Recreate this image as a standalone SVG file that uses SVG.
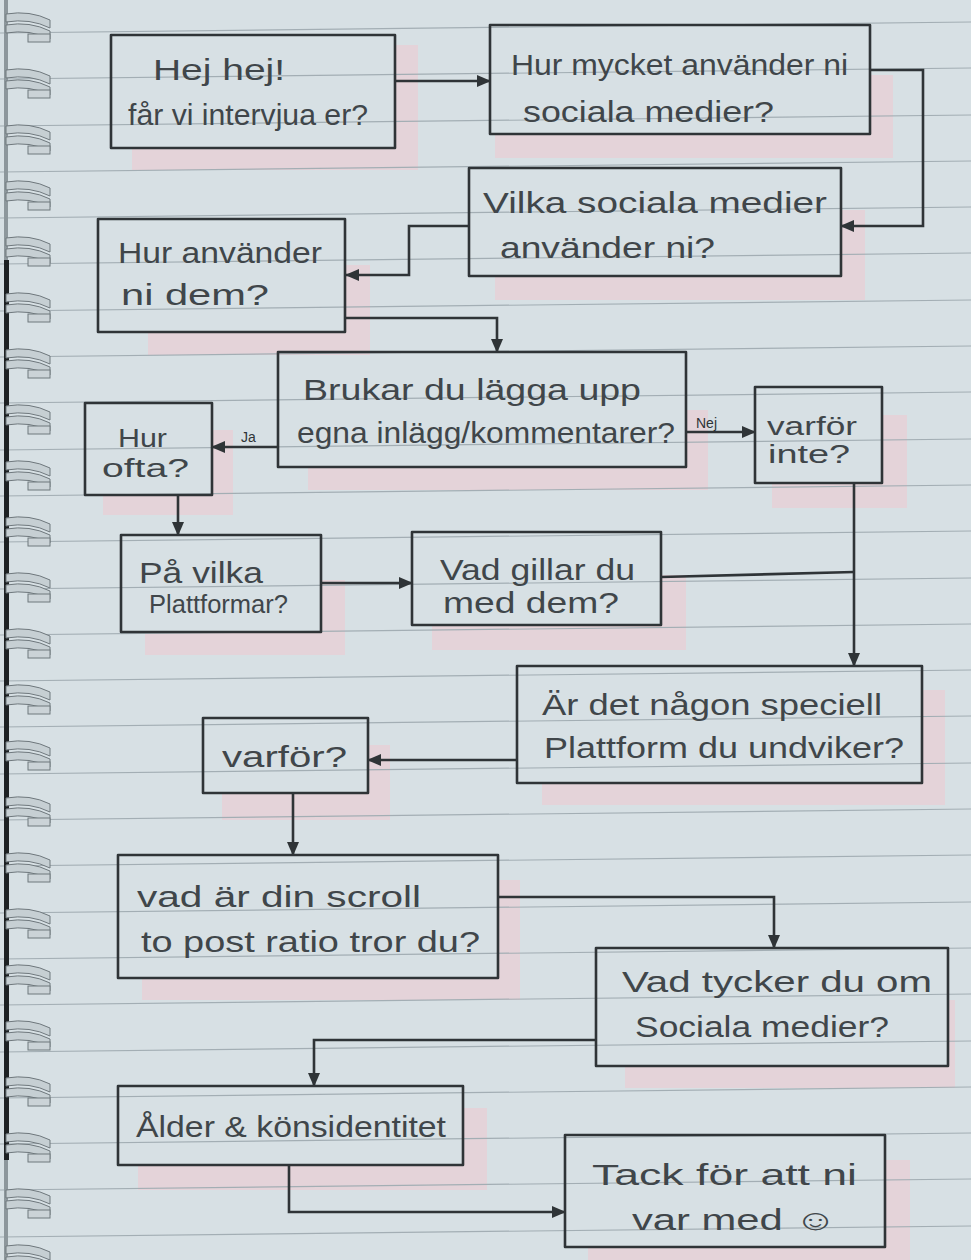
<svg xmlns="http://www.w3.org/2000/svg" xmlns:xlink="http://www.w3.org/1999/xlink" width="971" height="1260" viewBox="0 0 971 1260">
<style>
.box{fill:none;stroke:#2f3437;stroke-width:2.6;stroke-linejoin:round}
.sh{fill:#ecc9d2;opacity:0.6;fill-rule:evenodd}
.t{font-family:"Liberation Sans","DejaVu Sans",sans-serif;font-size:29px;fill:#40464a}
.s{font-size:25px}
.lbl{font-family:"Liberation Sans",sans-serif;font-size:14px;fill:#2f3437}
.c{fill:none;stroke:#2f3437;stroke-width:2.6}
.rule{stroke:#a3aeb4;stroke-width:1.2}
</style>
<defs>
<marker id="ah" markerWidth="14" markerHeight="12" refX="13" refY="6" orient="auto" markerUnits="userSpaceOnUse">
<path d="M0,0 L14,6 L0,12 z" fill="#2f3437"/>
</marker>
<g id="ring">
<path d="M6,0 Q30,-4 50,6 L50,14 Q30,4 6,8 z" fill="#c6cfd3" stroke="#6f787d" stroke-width="1"/>
<path d="M6,11 Q30,7 50,17 L50,25 Q30,15 6,19 z" fill="#c6cfd3" stroke="#6f787d" stroke-width="1"/>
<rect x="28" y="20" width="22" height="8" fill="#cbd3d7" stroke="#6f787d" stroke-width="1"/>
</g>
</defs>
<rect width="971" height="1260" fill="#d7e0e4"/>
<g id="shadows">
<path class="sh" d="M132,45h286v125h-286z M132,45H395V148H132z"/>
<path class="sh" d="M495,75h398v83h-398z M495,75H870V134H495z"/>
<path class="sh" d="M495,210h370v90h-370z M495,210H841V276H495z"/>
<path class="sh" d="M148,265h222v90h-222z M148,265H345V332H148z"/>
<path class="sh" d="M308,410h400v80h-400z M308,410H686V467H308z"/>
<path class="sh" d="M103,430h130v85h-130z M103,430H212V495H103z"/>
<path class="sh" d="M772,415h135v93h-135z M772,415H882V483H772z"/>
<path class="sh" d="M145,580h200v75h-200z M145,580H321V632H145z"/>
<path class="sh" d="M432,575h254v75h-254z M432,575H661V625H432z"/>
<path class="sh" d="M542,690h403v115h-403z M542,690H922V783H542z"/>
<path class="sh" d="M222,745h168v75h-168z M222,745H368V793H222z"/>
<path class="sh" d="M142,880h378v120h-378z M142,880H498V978H142z"/>
<path class="sh" d="M625,1000h330v88h-330z M625,1000H948V1066H625z"/>
<path class="sh" d="M138,1108h349v82h-349z M138,1108H463V1165H138z"/>
<path class="sh" d="M588,1160h322v100h-322z M588,1160H885V1247H588z"/>
</g>
<g id="paper-rules">
<line class="rule" x1="0" y1="33" x2="971" y2="22"/>
<line class="rule" x1="0" y1="79" x2="971" y2="68"/>
<line class="rule" x1="0" y1="126" x2="971" y2="115"/>
<line class="rule" x1="0" y1="172" x2="971" y2="161"/>
<line class="rule" x1="0" y1="218" x2="971" y2="207"/>
<line class="rule" x1="0" y1="264" x2="971" y2="253"/>
<line class="rule" x1="0" y1="311" x2="971" y2="300"/>
<line class="rule" x1="0" y1="357" x2="971" y2="346"/>
<line class="rule" x1="0" y1="403" x2="971" y2="392"/>
<line class="rule" x1="0" y1="450" x2="971" y2="439"/>
<line class="rule" x1="0" y1="496" x2="971" y2="485"/>
<line class="rule" x1="0" y1="542" x2="971" y2="531"/>
<line class="rule" x1="0" y1="589" x2="971" y2="578"/>
<line class="rule" x1="0" y1="635" x2="971" y2="624"/>
<line class="rule" x1="0" y1="681" x2="971" y2="670"/>
<line class="rule" x1="0" y1="727" x2="971" y2="716"/>
<line class="rule" x1="0" y1="774" x2="971" y2="763"/>
<line class="rule" x1="0" y1="820" x2="971" y2="809"/>
<line class="rule" x1="0" y1="866" x2="971" y2="855"/>
<line class="rule" x1="0" y1="913" x2="971" y2="902"/>
<line class="rule" x1="0" y1="959" x2="971" y2="948"/>
<line class="rule" x1="0" y1="1005" x2="971" y2="994"/>
<line class="rule" x1="0" y1="1052" x2="971" y2="1041"/>
<line class="rule" x1="0" y1="1098" x2="971" y2="1087"/>
<line class="rule" x1="0" y1="1144" x2="971" y2="1133"/>
<line class="rule" x1="0" y1="1190" x2="971" y2="1179"/>
<line class="rule" x1="0" y1="1237" x2="971" y2="1226"/>
</g>
<g id="binding">
<rect x="4" y="0" width="4" height="1260" fill="#8d979c"/>
<rect x="4" y="260" width="5" height="900" fill="#1e2224"/>
<use xlink:href="#ring" y="14"/><use xlink:href="#ring" y="70"/><use xlink:href="#ring" y="126"/><use xlink:href="#ring" y="182"/>
<use xlink:href="#ring" y="238"/><use xlink:href="#ring" y="294"/><use xlink:href="#ring" y="350"/><use xlink:href="#ring" y="406"/>
<use xlink:href="#ring" y="462"/><use xlink:href="#ring" y="518"/><use xlink:href="#ring" y="574"/><use xlink:href="#ring" y="630"/>
<use xlink:href="#ring" y="686"/><use xlink:href="#ring" y="742"/><use xlink:href="#ring" y="798"/><use xlink:href="#ring" y="854"/>
<use xlink:href="#ring" y="910"/><use xlink:href="#ring" y="966"/><use xlink:href="#ring" y="1022"/><use xlink:href="#ring" y="1078"/>
<use xlink:href="#ring" y="1134"/><use xlink:href="#ring" y="1190"/><use xlink:href="#ring" y="1246"/>
</g>
<g id="connectors">
<path class="c" d="M395,81 H490" marker-end="url(#ah)"/>
<path class="c" d="M870,70 H923 V226 H841" marker-end="url(#ah)"/>
<path class="c" d="M469,226 H409 V275 H346" marker-end="url(#ah)"/>
<path class="c" d="M345,318 H497 V352" marker-end="url(#ah)"/>
<path class="c" d="M278,447 H212" marker-end="url(#ah)"/>
<text class="lbl" x="241" y="442">Ja</text>
<path class="c" d="M686,432 H755" marker-end="url(#ah)"/>
<text class="lbl" x="696" y="428">Nej</text>
<path class="c" d="M178,495 V535" marker-end="url(#ah)"/>
<path class="c" d="M321,583 H412" marker-end="url(#ah)"/>
<path class="c" d="M661,577 L854,572"/>
<path class="c" d="M854,483 V666" marker-end="url(#ah)"/>
<path class="c" d="M517,760 H368" marker-end="url(#ah)"/>
<path class="c" d="M293,793 V855" marker-end="url(#ah)"/>
<path class="c" d="M498,897 H774 V948" marker-end="url(#ah)"/>
<path class="c" d="M596,1040 H314 V1086" marker-end="url(#ah)"/>
<path class="c" d="M289,1165 V1212 H565" marker-end="url(#ah)"/>
</g>
<g id="n1"><rect class="box" x="111" y="35" width="284" height="113"/>
<text class="t" x="153" y="80" textLength="132" lengthAdjust="spacingAndGlyphs">Hej hej!</text>
<text class="t" x="128" y="125" textLength="240" lengthAdjust="spacingAndGlyphs">får vi intervjua er?</text></g>
<g id="n2"><rect class="box" x="490" y="25" width="380" height="109"/>
<text class="t" x="511" y="75" textLength="337" lengthAdjust="spacingAndGlyphs">Hur mycket använder ni</text>
<text class="t" x="523" y="122" textLength="251" lengthAdjust="spacingAndGlyphs">sociala medier?</text></g>
<g id="n3"><rect class="box" x="469" y="168" width="372" height="108"/>
<text class="t" x="483" y="213" textLength="344" lengthAdjust="spacingAndGlyphs">Vilka sociala medier</text>
<text class="t" x="500" y="258" textLength="215" lengthAdjust="spacingAndGlyphs">använder ni?</text></g>
<g id="n4"><rect class="box" x="98" y="219" width="247" height="113"/>
<text class="t" x="118" y="263" textLength="204" lengthAdjust="spacingAndGlyphs">Hur använder</text>
<text class="t" x="121" y="305" textLength="148" lengthAdjust="spacingAndGlyphs">ni dem?</text></g>
<g id="n5"><rect class="box" x="278" y="352" width="408" height="115"/>
<text class="t" x="303" y="400" textLength="338" lengthAdjust="spacingAndGlyphs">Brukar du lägga upp</text>
<text class="t" x="297" y="443" textLength="378" lengthAdjust="spacingAndGlyphs">egna inlägg/kommentarer?</text></g>
<g id="n6"><rect class="box" x="85" y="403" width="127" height="92"/>
<text class="t s" x="118" y="447" textLength="49" lengthAdjust="spacingAndGlyphs">Hur</text>
<text class="t s" x="102" y="477" textLength="87" lengthAdjust="spacingAndGlyphs">ofta?</text></g>
<g id="n7"><rect class="box" x="755" y="387" width="127" height="96"/>
<text class="t s" x="767" y="435" textLength="90" lengthAdjust="spacingAndGlyphs">varför</text>
<text class="t s" x="768" y="463" textLength="82" lengthAdjust="spacingAndGlyphs">inte?</text></g>
<g id="n8"><rect class="box" x="121" y="535" width="200" height="97"/>
<text class="t" x="139" y="583" textLength="124" lengthAdjust="spacingAndGlyphs">På vilka</text>
<text class="t s" x="149" y="613" textLength="139" lengthAdjust="spacingAndGlyphs">Plattformar?</text></g>
<g id="n9"><rect class="box" x="412" y="532" width="249" height="93"/>
<text class="t" x="440" y="580" textLength="195" lengthAdjust="spacingAndGlyphs">Vad gillar du</text>
<text class="t" x="443" y="613" textLength="176" lengthAdjust="spacingAndGlyphs">med dem?</text></g>
<g id="n10"><rect class="box" x="517" y="666" width="405" height="117"/>
<text class="t" x="542" y="715" textLength="340" lengthAdjust="spacingAndGlyphs">Är det någon speciell</text>
<text class="t" x="544" y="758" textLength="360" lengthAdjust="spacingAndGlyphs">Plattform du undviker?</text></g>
<g id="n11"><rect class="box" x="203" y="718" width="165" height="75"/>
<text class="t" x="222" y="767" textLength="125" lengthAdjust="spacingAndGlyphs">varför?</text></g>
<g id="n12"><rect class="box" x="118" y="855" width="380" height="123"/>
<text class="t" x="137" y="907" textLength="284" lengthAdjust="spacingAndGlyphs">vad är din scroll</text>
<text class="t" x="141" y="952" textLength="339" lengthAdjust="spacingAndGlyphs">to post ratio tror du?</text></g>
<g id="n13"><rect class="box" x="596" y="948" width="352" height="118"/>
<text class="t" x="622" y="992" textLength="310" lengthAdjust="spacingAndGlyphs">Vad tycker du om</text>
<text class="t" x="635" y="1037" textLength="254" lengthAdjust="spacingAndGlyphs">Sociala medier?</text></g>
<g id="n14"><rect class="box" x="118" y="1086" width="345" height="79"/>
<text class="t" x="136" y="1137" textLength="310" lengthAdjust="spacingAndGlyphs">Ålder &amp; könsidentitet</text></g>
<g id="n15"><rect class="box" x="565" y="1135" width="320" height="112"/>
<text class="t" x="592" y="1185" textLength="265" lengthAdjust="spacingAndGlyphs">Tack för att ni</text>
<text class="t" x="632" y="1230" textLength="205" lengthAdjust="spacingAndGlyphs">var med ☺</text></g>
</svg>
